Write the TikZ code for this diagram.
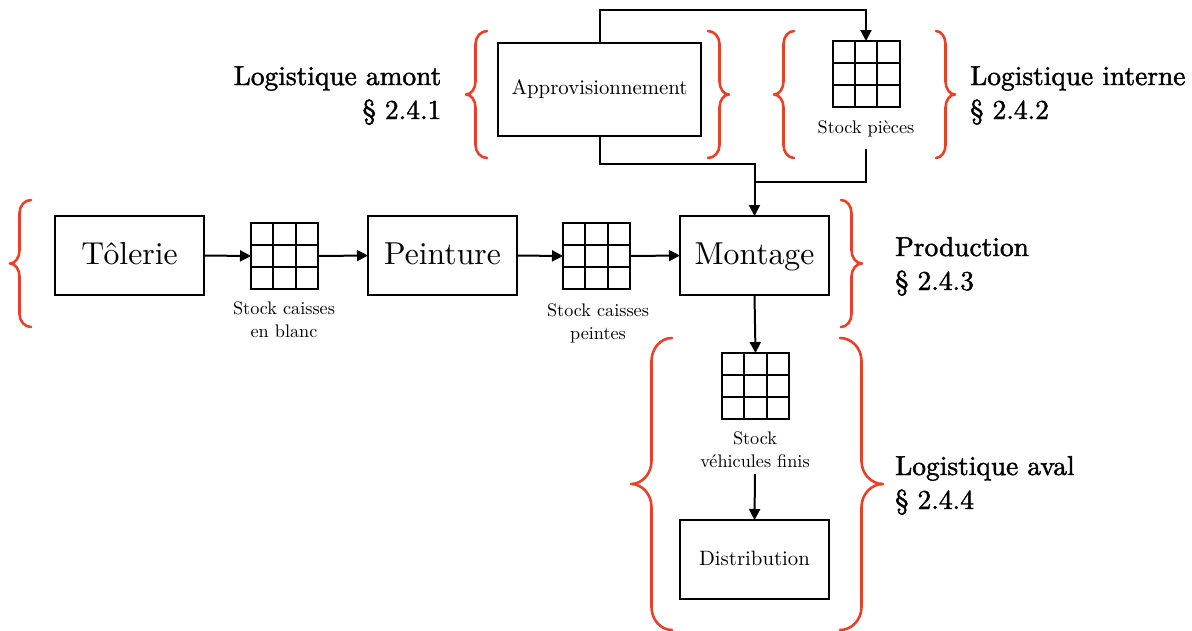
\documentclass[tikz,border=0pt]{standalone}
\usepackage{fontspec}
\setmainfont[Extension=.otf]{lmroman10-regular}
\newfontfamily\headfam[Extension=.otf,FakeBold=1.6]{lmroman10-regular}
\usetikzlibrary{arrows.meta}
\definecolor{bracered}{HTML}{E8412A}
\newcommand{\bigfont}{\fontsize{31.7}{34}\selectfont}
\newcommand{\midfont}{\fontsize{20.8}{24}\selectfont}
\newcommand{\smallfont}{\fontsize{18.2}{23}\selectfont}
\newcommand{\headfont}{\headfam\fontsize{27.4}{34}\selectfont}
% #1 open end x, #2 spine x, #3 tip x, #4 top y, #5 bottom y, #6 radius
\newcommand{\mybrace}[6]{%
  \pgfmathsetmacro{\ymid}{(#4+#5)/2}%
  \draw[bracesty] (#1,#4) .. controls (#2+0.45*#1-0.45*#2,#4) and (#2,#4+0.45*#6) .. (#2,#4+#6)
    -- (#2,\ymid-#6) .. controls (#2,\ymid-0.45*#6) and (#2+0.45*#3-0.45*#2,\ymid) .. (#3,\ymid)
    .. controls (#2+0.45*#3-0.45*#2,\ymid) and (#2,\ymid+0.45*#6) .. (#2,\ymid+#6)
    -- (#2,#5-#6) .. controls (#2,#5-0.45*#6) and (#2+0.45*#1-0.45*#2,#5) .. (#1,#5);}
\tikzset{
  bracesty/.style={draw=bracered,line width=2.6pt,line cap=round,line join=round},
  procbox/.style={draw=black,line width=2pt,inner sep=0pt,outer sep=0pt,minimum width=149pt,minimum height=79pt},
  gridbox/.style={draw=black,line width=2pt,inner sep=0pt,outer sep=0pt,minimum width=67pt,minimum height=66pt,
    path picture={
      \draw[line width=2pt] ([xshift=22.3pt]path picture bounding box.north west) -- ([xshift=22.3pt]path picture bounding box.south west);
      \draw[line width=2pt] ([xshift=-22.3pt]path picture bounding box.north east) -- ([xshift=-22.3pt]path picture bounding box.south east);
      \draw[line width=2pt] ([yshift=-22pt]path picture bounding box.north west) -- ([yshift=-22pt]path picture bounding box.north east);
      \draw[line width=2pt] ([yshift=22pt]path picture bounding box.south west) -- ([yshift=22pt]path picture bounding box.south east);
    }},
  stocklabel/.style={align=center,inner sep=0pt,outer sep=0pt,font=\smallfont},
  headlabel/.style={inner sep=0pt,font=\headfont},
  link/.style={line width=2pt},
  flow/.style={line width=2pt,-{Triangle[length=11pt,width=11pt]}}
}
\begin{document}
\begin{tikzpicture}[x=1pt,y=-1pt]
\useasboundingbox (0,0) rectangle (1192,630);
% process boxes
\node[procbox,font=\bigfont,text height=23pt,text depth=6pt] (tolerie) at (129.5,255.5) {Tôlerie};
\node[procbox,font=\bigfont,text height=23pt,text depth=6pt] (peinture) at (442.5,255.5) {Peinture};
\node[procbox,font=\bigfont,text height=23pt,text depth=6pt] (montage) at (754.5,255.5) {Montage};
\node[procbox,font=\midfont,minimum width=203pt,minimum height=93pt] (appro) at (599.5,89.5) {Approvisionnement};
\node[procbox,font=\midfont,text height=15pt,text depth=4pt] (distrib) at (754.5,559.5) {Distribution};
% stocks
\node[gridbox] (g1) at (284.5,256) {};
\node[gridbox] (g2) at (596.5,256) {};
\node[gridbox] (gtop) at (866,74) {};
\node[gridbox] (gbot) at (755.5,386) {};
\node[stocklabel] (l1) at (284,320) {Stock caisses\\en blanc};
\node[stocklabel] (l2) at (598,323) {Stock caisses\\peintes};
\node[stocklabel,minimum height=40pt] (ltop) at (866,128.5) {Stock pièces};
\node[stocklabel,minimum height=49pt] (lbot) at (755,449.5) {Stock\\véhicules finis};
% connectors
\draw[flow] (tolerie.east) -- (g1.west);
\draw[flow] (g1.east) -- (peinture.west);
\draw[flow] (peinture.east) -- (g2.west);
\draw[flow] (g2.east) -- (montage.west);
\draw[flow] (montage.south) -- (gbot.north);
\draw[flow] (lbot.south) -- (distrib.north);
\draw[flow] (appro.north) -- ++(0,-32.7) -| (gtop.north);
\draw[flow] (appro.south) -- ++(0,28) -| (montage.north);
\coordinate (join) at (754.5,182);
\draw[link] (ltop.south) |- (join);
% braces
\mybrace{487}{475.5}{466}{31}{158}{13}
\mybrace{708}{719.5}{729}{31}{158}{13}
\mybrace{794}{783.5}{774}{31}{158}{13}
\mybrace{936}{945.5}{955}{31}{158}{13}
\mybrace{31}{19.5}{10}{200}{327}{13}
\mybrace{841}{851.5}{862}{200}{327}{13}
\mybrace{672}{651.5}{631}{338}{630}{23}
\mybrace{840}{861.5}{883}{338}{630}{23}
% headings
\node[headlabel,anchor=base east,align=right] (h1) at (441.5,119) {Logistique amont\\§ 2.4.1};
\node[headlabel,anchor=base west,align=left] (h2) at (970,119) {Logistique interne\\§ 2.4.2};
\node[headlabel,anchor=base west,align=left] (h3) at (895,290) {Production\\§ 2.4.3};
\node[headlabel,anchor=base west,align=left] (h4) at (895,509) {Logistique aval\\§ 2.4.4};
\end{tikzpicture}
\end{document}
